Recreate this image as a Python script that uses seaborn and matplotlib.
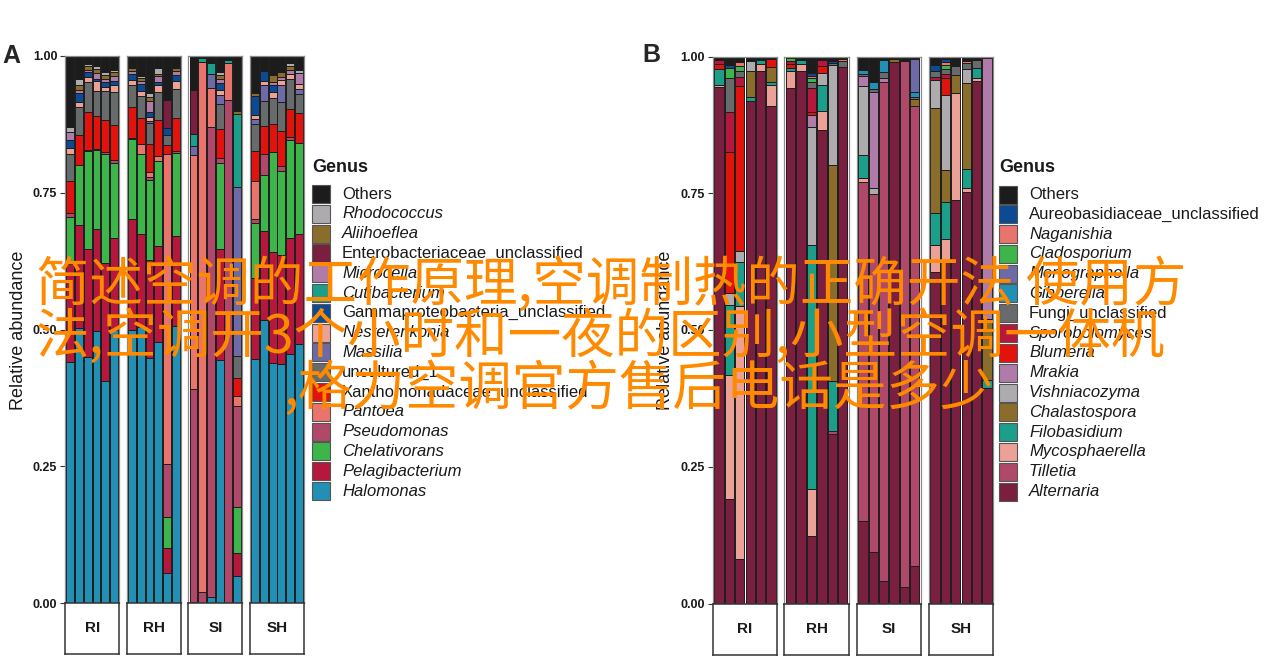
import pandas as pd
import matplotlib
matplotlib.use("Agg")
import matplotlib.pyplot as plt
import seaborn as sns
from matplotlib.patches import Rectangle

# -----------------------------
# Data (relative abundance)
# bar order in every list: RI1-6, RH1-6, SI1-6, SH1-6
# -----------------------------
groups = ["RI", "RH", "SI", "SH"]

# Panel A: bacteria, legend order (top of stack first)
genera_a = ["Others", "Rhodococcus", "Aliihoeflea", "Enterobacteriaceae_unclassified",
            "Microcella", "Cutibacterium", "Gammaproteobacteria_unclassified",
            "Nesterenkonia", "Massilia", "uncultured_1", "Xanthomonadaceae_unclassified",
            "Pantoea", "Pseudomonas", "Chelativorans", "Pelagibacterium", "Halomonas"]

others_a = [.130, .042, .015, .018, .029, .026, .022, .037, .068, .022, .080, .022,
            .062, .003, .013, .029, .007, .099, .068, .027, .035, .029, .013, .026]
rhodococcus = [.009, .010, .004, .006, .005, .003, 0, .003, .007, .011, 0, 0,
               0, 0, 0, .006, 0, 0, 0, 0, 0, 0, .005, .005]
aliihoeflea = [0, .009, .006, .006, .007, .007, .006, .006, .006, .004, 0, .006,
               0, 0, 0, .006, 0, .005, .005, 0, .011, .008, .007, 0]
enterobacteriaceae = [0, 0, 0, 0, 0, 0, 0, 0, 0, 0, .052, 0,
                      .080, 0, 0, 0, 0, 0, 0, 0, 0, 0, 0, 0]
microcella = [.014, .006, .004, .011, .007, .009, .005, .004, .020, .011, 0, .007,
              0, 0, 0, .007, 0, 0, 0, 0, .006, .007, .008, .019]
cutibacterium = [0, 0, 0, 0, 0, 0, 0, 0, 0, 0, 0, 0,
                 .022, .008, .020, 0, .006, .133, 0, 0, 0, 0, 0, 0]
gammaproteobacteria = [.015, .016, .009, .005, .008, .007, .011, .013, .009, .005, .013, .011,
                       0, 0, 0, .013, 0, 0, .035, .019, .012, 0, 0, 0]
nesterenkonia = [.011, .010, .010, .018, .008, .013, .009, .010, .008, .013, 0, .013,
                 0, 0, 0, .009, 0, 0, .007, .007, .011, .008, .008, .010]
massilia = [0, 0, 0, 0, 0, 0, 0, 0, .004, 0, 0, 0,
            .015, 0, .025, .017, 0, .304, .009, .029, 0, .031, 0, .008]
uncultured = [.050, .050, .055, .045, .052, .060, .040, .040, .038, .050, .018, .053,
              0, 0, 0, .045, 0, .040, .049, .044, .047, .053, .056, .035]
xanthomonadaceae = [.058, .055, .068, .060, .059, .064, .055, .047, .051, .065, .016, .060,
                    0, 0, 0, .052, 0, .033, .055, .052, .051, .062, .050, .053]
pantoea = [0, 0, 0, 0, 0, 0, 0, .018, .009, .009, .565, 0,
           .426, .969, .071, 0, .067, .017, .069, 0, 0, 0, 0, 0]
pseudomonas = [.008, 0, .003, .002, .003, .006, .002, 0, .005, 0, .097, .003,
               .387, .020, .855, .009, .920, .182, .007, .038, 0, .009, .005, 0]
chelativorans = [.085, .109, .178, .143, .199, .136, .146, .145, .145, .155, .057, .150,
                 0, 0, 0, .157, 0, .083, .100, .100, .179, .152, .179, .164]
pelagibacterium = [.180, .186, .197, .186, .214, .167, .201, .169, .179, .174, .045, .164,
                   0, 0, 0, .201, 0, .042, .146, .161, .200, .196, .211, .198]
halomonas = [.440, .500, .450, .494, .404, .497, .494, .500, .444, .475, .055, .500,
             .002, 0, .010, .439, 0, .049, .444, .512, .431, .431, .453, .466]

colors_a = ["#1c1c1c", "#adabad", "#8b6d2b", "#7a1f40", "#b07ba8", "#1b9e8a",
            "#0c4b94", "#eba195", "#6e6aa8", "#676b6b", "#e2130c", "#e8746c",
            "#b0486a", "#3db54b", "#b5183c", "#2290b4"]

# Panel B: fungi, legend order (top of stack first)
genera_b = ["Others", "Aureobasidiaceae_unclassified", "Naganishia", "Cladosporium",
            "Monographella", "Gibberella", "Fungi_unclassified", "Sporobolomyces",
            "Blumeria", "Mrakia", "Vishniacozyma", "Chalastospora", "Filobasidium",
            "Mycosphaerella", "Tilletia", "Alternaria"]

others_b = [.006, .016, .010, .008, .006, .005, .002, .004, .030, .006, .008, .004,
            .025, .047, .006, .004, .008, .005, .016, .004, .018, .008, .006, .002]
aureobasidiaceae = [0, .004, 0, 0, 0, 0, 0, 0, .005, 0, .004, 0,
                    0, 0, 0, 0, 0, 0, .011, .006, 0, 0, 0, 0]
naganishia = [0, 0, .008, 0, 0, 0, 0, 0, .004, 0, 0, .005,
              0, 0, 0, 0, 0, 0, 0, .006, 0, .004, 0, 0]
cladosporium = [0, .018, .008, 0, 0, 0, .007, 0, .008, 0, 0, 0,
                0, 0, 0, 0, 0, 0, 0, .006, 0, 0, 0, 0]
monographella = [0, 0, 0, 0, 0, 0, 0, 0, 0, 0, 0, 0,
                 0, 0, 0, 0, 0, .059, 0, 0, 0, 0, 0, 0]
gibberella = [0, 0, 0, 0, 0, 0, 0, 0, 0, 0, 0, 0,
              .006, .013, .023, 0, 0, .010, 0, 0, 0, 0, 0, 0]
fungi_uncl = [0, .063, .012, 0, 0, 0, 0, 0, .010, 0, .004, .010,
              .005, .005, .010, 0, 0, .004, .010, .010, .015, .011, .015, 0]
sporobolomyces = [.008, .071, .015, 0, 0, 0, .004, .003, .044, .011, 0, 0,
                  0, 0, 0, 0, 0, 0, .005, .008, 0, 0, 0, 0]
blumeria = [.008, .256, .300, 0, 0, .015, .008, 0, .006, .013, 0, 0,
            0, 0, 0, 0, 0, 0, 0, .031, 0, 0, 0, 0]
mrakia = [0, 0, 0, 0, 0, 0, 0, 0, .022, 0, 0, 0,
          .018, .174, .008, 0, 0, 0, 0, 0, 0, 0, 0, .478]
vishniacozyma = [0, .020, .020, .018, 0, 0, 0, 0, .213, .021, .183, 0,
                 .126, .011, 0, 0, 0, 0, .051, .136, 0, .026, 0, 0]
chalastospora = [0, 0, 0, .047, 0, .027, 0, 0, 0, 0, .394, 0,
                 0, 0, 0, .006, 0, .012, .190, .058, .034, .157, 0, .112]
filobasidium = [.030, .128, .080, .009, .008, .006, .005, .006, .444, .048, .092, 0,
                .042, 0, 0, 0, 0, 0, .058, .068, 0, .035, .018, .014]
mycosphaerella = [.004, .223, .461, 0, .012, .037, .031, .013, .087, .035, 0, 0,
                  .006, 0, 0, 0, 0, 0, .050, .040, .196, .007, .006, 0]
tilletia = [0, 0, 0, 0, 0, 0, 0, 0, 0, 0, .005, 0,
            .618, .653, .912, 0, .962, .841, 0, 0, 0, 0, 0, 0]
alternaria = [.944, .189, .081, .915, .974, .910, .943, .974, .122, .857, .310, .981,
              .151, .094, .041, .990, .030, .069, .600, .624, .737, .752, .955, .394]

colors_b = ["#1c1c1c", "#0c4b94", "#e8746c", "#3db54b", "#6e6aa8", "#2290b4",
            "#676b6b", "#b5183c", "#e2130c", "#b07ba8", "#adabad", "#8b6d2b",
            "#1b9e8a", "#eba195", "#b0486a", "#7a1f40"]

palette_a = dict(zip(genera_a, colors_a))
palette_b = dict(zip(genera_b, colors_b))

series_a = [others_a, rhodococcus, aliihoeflea, enterobacteriaceae, microcella, cutibacterium,
            gammaproteobacteria, nesterenkonia, massilia, uncultured, xanthomonadaceae,
            pantoea, pseudomonas, chelativorans, pelagibacterium, halomonas]
series_b = [others_b, aureobasidiaceae, naganishia, cladosporium, monographella, gibberella,
            fungi_uncl, sporobolomyces, blumeria, mrakia, vishniacozyma, chalastospora,
            filobasidium, mycosphaerella, tilletia, alternaria]


def to_long(genera, series):
    rows = []
    for name, vals in zip(genera, series):
        for i, v in enumerate(vals):
            rows.append({"group": groups[i // 6], "pos": i % 6, "genus": name, "value": v})
    df = pd.DataFrame(rows)
    return df[df["value"] > 0]


df_a = to_long(genera_a, series_a)
df_b = to_long(genera_b, series_b)

# -----------------------------
# Figure setup
# -----------------------------
sns.set_theme(style="white")
plt.rcParams['font.family'] = ['Liberation Sans', 'DejaVu Sans']

W, H = 1270, 663
fig = plt.figure(figsize=(W / 100, H / 100), dpi=100)


def fx(x):
    return x / W


def fy(y):
    return 1 - y / H


def px_axes(x0, y0, x1, y1):
    return fig.add_axes([x0 / W, 1 - y1 / H, (x1 - x0) / W, (y1 - y0) / H])


def draw_panel(df, genera, palette, facets, top, bottom, strip_bottom):
    for i, (g, (x0, x1)) in enumerate(zip(groups, facets)):
        ax = px_axes(x0, top, x1, bottom)
        sub = df[df["group"] == g]
        sns.histplot(data=sub, x="pos", weights="value", hue="genus", hue_order=genera,
                     palette=palette, multiple="fill", discrete=True, shrink=0.9,
                     edgecolor="#1c1c1c", linewidth=0.7, alpha=1, legend=False, ax=ax)
        ax.set_xlim(-0.6, 5.6)
        ax.set_ylim(0, 1)
        ax.set_xticks([])
        ax.set_xlabel("")
        ax.set_ylabel("")
        for s in ax.spines.values():
            s.set_color("#8c8c8c")
            s.set_linewidth(0.9)
        if i == 0:
            ax.set_yticks([0, 0.25, 0.5, 0.75, 1])
            ax.set_yticklabels(["0.00", "0.25", "0.50", "0.75", "1.00"],
                               fontsize=9, fontweight="bold", color="#1a1a1a")
            ax.tick_params(axis="y", left=True, length=3.5, width=0.8,
                           color="#333333", pad=2)
        else:
            ax.set_yticks([])

        # facet strip under the panel
        sax = px_axes(x0, bottom, x1, strip_bottom)
        sax.set_xticks([])
        sax.set_yticks([])
        sax.set_facecolor("white")
        for s in sax.spines.values():
            s.set_color("#333333")
            s.set_linewidth(1.1)
        sax.text(0.5, 0.5, g, ha="center", va="center", fontsize=11,
                 fontweight="bold", color="#1a1a1a", transform=sax.transAxes)


def draw_legend(genera, palette, x, title_y, first_y, step):
    fig.text(fx(x), fy(title_y), "Genus", fontsize=13, fontweight="bold",
             ha="left", va="center", color="#1a1a1a")
    for k, name in enumerate(genera):
        cy = first_y + k * step
        fig.add_artist(Rectangle((fx(x), fy(cy + 9)), 18 / W, 18 / H,
                                 transform=fig.transFigure, facecolor=palette[name],
                                 edgecolor="#555555", linewidth=0.8))
        upright = name == "Others" or "_" in name
        fig.text(fx(x + 30), fy(cy), name, fontsize=12,
                 style="normal" if upright else "italic",
                 ha="left", va="center", color="#1a1a1a")


# Panel A
draw_panel(df_a, genera_a, palette_a,
           [(65, 119.3), (126.7, 181), (188.3, 242.3), (250, 304)], 56, 603, 654)
draw_legend(genera_a, palette_a, 312, 167, 194, 19.8)
fig.text(fx(19), fy(330), "Relative abundance", rotation=90, fontsize=13,
         ha="center", va="center", color="#1a1a1a")
fig.text(fx(11), fy(56), "A", fontsize=18, fontweight="bold", ha="center", va="center")

# Panel B
draw_panel(df_b, genera_b, palette_b,
           [(712.7, 777.3), (784.3, 849), (856.7, 921), (928.7, 993.3)], 56.5, 603.5, 655)
draw_legend(genera_b, palette_b, 999, 167, 194.5, 19.8)
fig.text(fx(666), fy(330), "Relative abundance", rotation=90, fontsize=13,
         ha="center", va="center", color="#1a1a1a")
fig.text(fx(651), fy(55), "B", fontsize=18, fontweight="bold", ha="center", va="center")

# -----------------------------
# Orange overlay text
# -----------------------------
overlay_lines = ["简述空调的工作原理,空调制热的正确开法 使用方",
                 "法,空调开3个小时和一夜的区别,小型空调一体机",
                 ",格力空调官方售后电话是多少"]
overlay_pos = [(36, 285), (36, 337), (283, 389)]
for txt, (ox, oy) in zip(overlay_lines, overlay_pos):
    fig.text(fx(ox), fy(oy), txt, fontsize=38.5, color="#ff8a00",
             family=['Noto Sans CJK SC', 'DejaVu Sans'], ha="left", va="center")

fig.savefig("out.png", dpi=100, facecolor="white")
